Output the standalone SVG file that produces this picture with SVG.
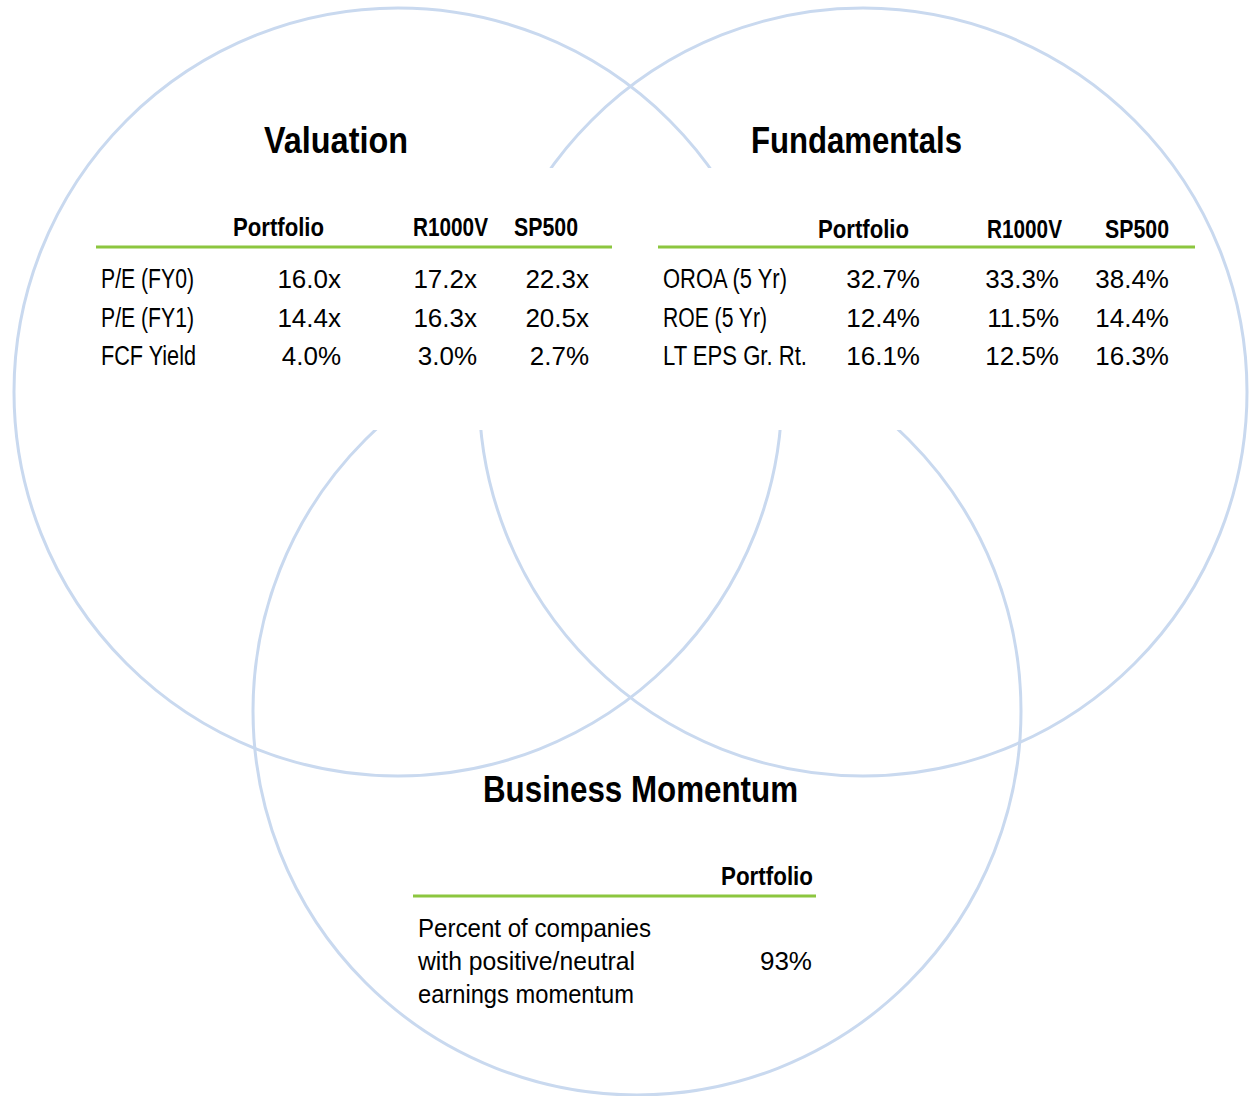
<svg xmlns="http://www.w3.org/2000/svg" width="1253" height="1096" viewBox="0 0 1253 1096">
<style>
.c{fill:none;stroke:#c9d9ef;stroke-width:3}
.g{stroke:#8cc63f;stroke-width:3}
.t{font-family:"Liberation Sans",Arial,sans-serif;font-weight:bold;font-size:36px;fill:#000;text-anchor:middle}
.h{font-family:"Liberation Sans",Arial,sans-serif;font-weight:bold;font-size:26px;fill:#000;text-anchor:middle}
.l{font-family:"Liberation Sans",Arial,sans-serif;font-size:27px;fill:#000}
.m{font-family:"Liberation Sans",Arial,sans-serif;font-size:26px;fill:#000}
.n{font-family:"Liberation Sans",Arial,sans-serif;font-size:26px;fill:#000;text-anchor:end}
</style>
<g id="circles">
<circle class="c" cx="398" cy="392" r="384"/>
<circle class="c" cx="863" cy="392" r="384"/>
<circle class="c" cx="637" cy="711" r="384"/>
<rect x="90" y="168" width="1080" height="262" fill="#fff"/>
</g>
<g id="valuation">
<text class="t" x="336" y="153" textLength="144" lengthAdjust="spacingAndGlyphs">Valuation</text>
<text class="h" x="278.5" y="236" textLength="91" lengthAdjust="spacingAndGlyphs">Portfolio</text>
<text class="h" x="450.5" y="236" textLength="75" lengthAdjust="spacingAndGlyphs">R1000V</text>
<text class="h" x="546" y="236" textLength="64" lengthAdjust="spacingAndGlyphs">SP500</text>
<line class="g" x1="96" y1="247" x2="612" y2="247"/>
<text class="l" x="101" y="288" textLength="93" lengthAdjust="spacingAndGlyphs">P/E (FY0)</text>
<text class="l" x="101" y="327" textLength="93" lengthAdjust="spacingAndGlyphs">P/E (FY1)</text>
<text class="l" x="101" y="365" textLength="95" lengthAdjust="spacingAndGlyphs">FCF Yield</text>
<text class="n" x="341" y="288">16.0x</text>
<text class="n" x="341" y="327">14.4x</text>
<text class="n" x="341" y="365">4.0%</text>
<text class="n" x="477" y="288">17.2x</text>
<text class="n" x="477" y="327">16.3x</text>
<text class="n" x="477" y="365">3.0%</text>
<text class="n" x="589" y="288">22.3x</text>
<text class="n" x="589" y="327">20.5x</text>
<text class="n" x="589" y="365">2.7%</text>
</g>
<g id="fundamentals">
<text class="t" x="856.5" y="153" textLength="211" lengthAdjust="spacingAndGlyphs">Fundamentals</text>
<text class="h" x="863.5" y="238" textLength="91" lengthAdjust="spacingAndGlyphs">Portfolio</text>
<text class="h" x="1024.5" y="238" textLength="75" lengthAdjust="spacingAndGlyphs">R1000V</text>
<text class="h" x="1137" y="238" textLength="64" lengthAdjust="spacingAndGlyphs">SP500</text>
<line class="g" x1="658" y1="247" x2="1195" y2="247"/>
<text class="l" x="663" y="288" textLength="124" lengthAdjust="spacingAndGlyphs">OROA (5 Yr)</text>
<text class="l" x="663" y="327" textLength="104" lengthAdjust="spacingAndGlyphs">ROE (5 Yr)</text>
<text class="l" x="663" y="365" textLength="144" lengthAdjust="spacingAndGlyphs">LT EPS Gr. Rt.</text>
<text class="n" x="920" y="288">32.7%</text>
<text class="n" x="920" y="327">12.4%</text>
<text class="n" x="920" y="365">16.1%</text>
<text class="n" x="1059" y="288">33.3%</text>
<text class="n" x="1059" y="327">11.5%</text>
<text class="n" x="1059" y="365">12.5%</text>
<text class="n" x="1169" y="288">38.4%</text>
<text class="n" x="1169" y="327">14.4%</text>
<text class="n" x="1169" y="365">16.3%</text>
</g>
<g id="momentum">
<text class="t" x="640.5" y="802" textLength="315" lengthAdjust="spacingAndGlyphs">Business Momentum</text>
<text class="h" x="767" y="885" textLength="92" lengthAdjust="spacingAndGlyphs">Portfolio</text>
<line class="g" x1="413" y1="896" x2="816" y2="896"/>
<text class="m" x="418" y="937" textLength="233" lengthAdjust="spacingAndGlyphs">Percent of companies</text>
<text class="m" x="418" y="970" textLength="217" lengthAdjust="spacingAndGlyphs">with positive/neutral</text>
<text class="m" x="418" y="1003" textLength="216" lengthAdjust="spacingAndGlyphs">earnings momentum</text>
<text class="n" x="812" y="970">93%</text>
</g>
</svg>
